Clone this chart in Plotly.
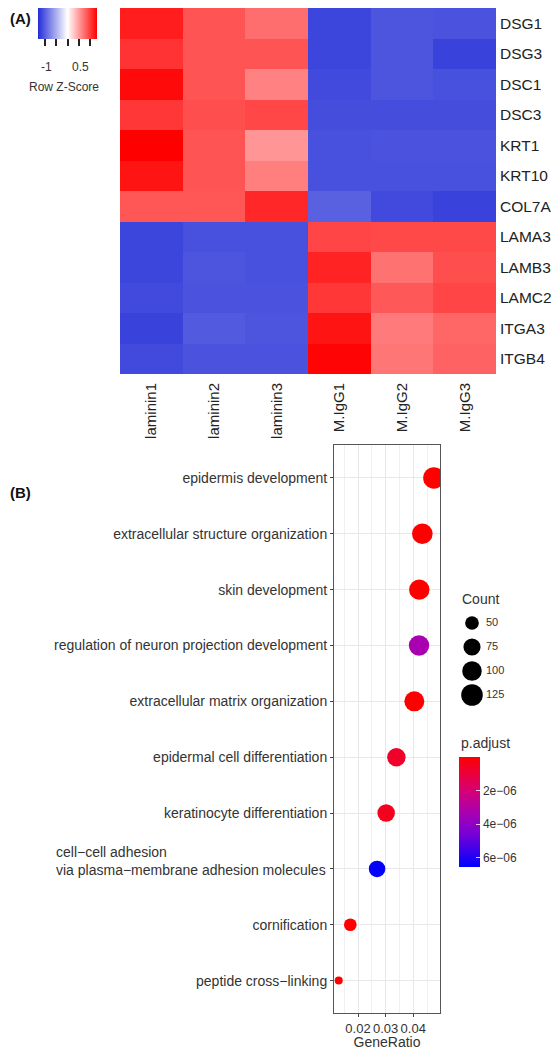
import math
import plotly.graph_objects as go

# ---------------- Panel A data ----------------
samples = ["laminin1", "laminin2", "laminin3", "M.IgG1", "M.IgG2", "M.IgG3"]
genes = ["DSG1", "DSG3", "DSC1", "DSC3", "KRT1", "KRT10", "COL7A1",
         "LAMA3", "LAMB3", "LAMC2", "ITGA3", "ITGB4"]
zscores = [
    [1.15, 0.87, 0.74, -1.15, -1.05, -1.07],
    [1.04, 0.87, 0.87, -1.15, -1.05, -1.17],
    [1.25, 0.87, 0.64, -1.12, -1.05, -1.08],
    [1.02, 0.90, 0.94, -1.10, -1.10, -1.10],
    [1.30, 0.87, 0.54, -1.08, -1.07, -1.07],
    [1.20, 0.87, 0.66, -1.08, -1.08, -1.08],
    [0.86, 0.86, 1.10, -0.98, -1.12, -1.17],
    [-1.15, -1.08, -1.08, 0.95, 0.93, 0.93],
    [-1.15, -1.05, -1.08, 1.12, 0.72, 0.90],
    [-1.12, -1.07, -1.07, 1.02, 0.85, 0.95],
    [-1.17, -1.02, -1.05, 1.20, 0.68, 0.78],
    [-1.12, -1.07, -1.07, 1.28, 0.70, 0.80],
]
key_ticks = [-1, -0.5, 0, 0.5, 1]
key_labels = {-1: "-1", 0.5: "0.5"}

# ---------------- Panel B data ----------------
terms = [
    "epidermis development",
    "extracellular structure organization",
    "skin development",
    "regulation of neuron projection development",
    "extracellular matrix organization",
    "epidermal cell differentiation",
    "keratinocyte differentiation",
    "cell\u2212cell adhesion<br>via plasma\u2212membrane adhesion molecules",
    "cornification",
    "peptide cross\u2212linking",
]
gene_ratio = [0.0475, 0.0433, 0.0422, 0.0421, 0.0404, 0.0339, 0.0302, 0.0269, 0.0172, 0.0130]
counts = [124, 113, 110, 110, 105, 88, 79, 70, 45, 34]
p_adjust = [1.0e-10, 3.0e-10, 2.0e-10, 3.3e-6, 5.0e-10, 7.0e-7, 5.0e-7, 6.5e-6, 1.0e-9, 2.0e-9]
count_breaks = [50, 75, 100, 125]
padj_ticks = [2e-6, 4e-6, 6e-6]
padj_ticktext = ["2e\u221206", "4e\u221206", "6e\u221206"]
ratio_ticks = [0.02, 0.03, 0.04]
ratio_minor = [0.015, 0.025, 0.035, 0.045]

# page body has an 8px default margin; figure sized to fit the 559x1050 window
OFF = 8
W, H = 559 - OFF, 1050 - OFF
FONT = "Liberation Sans, Arial, sans-serif"
TXT = "#333333"


def px_x(p):
    return (p - OFF) / W


def px_y(p):
    return 1 - (p - OFF) / H


# size scale (area-like, as ggplot scale_size)
cmin, cmax = min(counts), max(counts)


def dia(c):
    f = max(0.0, (c - cmin) / (cmax - cmin))
    return 8 + 13.5 * math.sqrt(f)


ZMIN, ZMAX = -1.3, 1.3
KEY_L, KEY_W = 38, 59

heat_scale = [[0.0, "rgb(35,45,215)"], [0.5, "rgb(255,255,255)"], [1.0, "rgb(255,0,0)"]]
padj_scale = [[0.0, "rgb(0,0,255)"], [0.3, "rgb(120,0,215)"], [0.5, "rgb(170,0,175)"],
              [0.7, "rgb(215,0,115)"], [1.0, "rgb(255,0,0)"]]
pmax = 6.55e-6

fig = go.Figure()

fig.add_trace(go.Heatmap(
    z=zscores, x=samples, y=genes, colorscale=heat_scale, zmin=ZMIN, zmax=ZMAX,
    xaxis="x", yaxis="y", hoverinfo="skip",
    colorbar=dict(
        orientation="h", x=px_x(KEY_L), xanchor="left", y=1.0, yanchor="top",
        lenmode="pixels", len=KEY_W, thickness=31, outlinewidth=0,
        tickmode="array", tickvals=key_ticks, ticktext=[""] * len(key_ticks),
        ticks="outside", ticklen=7, tickwidth=1.5, tickcolor="#222",
        tickfont=dict(size=12, color=TXT, family=FONT), xpad=0, ypad=0,
    ),
))

fig.add_trace(go.Scatter(
    x=gene_ratio, y=terms, mode="markers", xaxis="x2", yaxis="y2", cliponaxis=True,
    marker=dict(size=[dia(c) for c in counts], color=[-p for p in p_adjust], opacity=1,
                cmin=-pmax, cmax=0, colorscale=padj_scale, line=dict(width=0),
                colorbar=dict(
                    x=px_x(459), xanchor="left", y=px_y(757), yanchor="top",
                    lenmode="pixels", len=110, thickness=21, outlinewidth=0,
                    tickmode="array", tickvals=[-v for v in padj_ticks], ticktext=padj_ticktext,
                    ticks="inside", ticklen=4, tickcolor="rgba(255,255,255,0.8)",
                    tickfont=dict(size=12, color=TXT, family=FONT), xpad=0, ypad=0,
                )),
    showlegend=False, hoverinfo="skip",
))

# Count legend
fig.add_trace(go.Scatter(
    x=[17] * len(count_breaks), y=[str(c) for c in count_breaks], mode="markers",
    xaxis="x3", yaxis="y3",
    marker=dict(size=[dia(c) for c in count_breaks], color="black", opacity=1, line=dict(width=0)),
    showlegend=False, hoverinfo="skip",
))
fig.add_trace(go.Scatter(
    x=[31] * len(count_breaks), y=[str(c) for c in count_breaks], mode="text",
    text=[str(c) for c in count_breaks], textposition="middle right",
    textfont=dict(size=11, color=TXT, family=FONT),
    xaxis="x3", yaxis="y3", showlegend=False, hoverinfo="skip",
))

ticktext_terms = ["" if "<br>" in t else t for t in terms]

fig.update_layout(
    width=W, height=H, margin=dict(l=0, r=0, t=0, b=0),
    paper_bgcolor="white", plot_bgcolor="white", showlegend=False,
    font=dict(family=FONT, color=TXT),
    xaxis=dict(domain=[px_x(120), px_x(496)], anchor="y", tickangle=-90, ticks="",
               showgrid=False, zeroline=False, ticklabelstandoff=5,
               tickfont=dict(size=15, color="#222", family=FONT)),
    yaxis=dict(domain=[px_y(374), 1.0], anchor="x", side="right", autorange="reversed",
               ticks="", showgrid=False, zeroline=False, ticklabelstandoff=3,
               tickfont=dict(size=15.5, color="#222", family=FONT)),
    xaxis2=dict(domain=[px_x(334), px_x(440)], anchor="y2", range=[0.0113, 0.0497],
                tickmode="array", tickvals=ratio_ticks, ticktext=[f"{v:.2f}" for v in ratio_ticks],
                tickangle=0,
                ticks="outside", ticklen=3, tickcolor="#444", showline=True, linecolor="#555",
                linewidth=1, mirror=True, showgrid=True, gridcolor="#e8e8e8", zeroline=False,
                minor=dict(tickvals=ratio_minor, showgrid=True, gridcolor="#f0f0f0", ticks=""),
                tickfont=dict(size=13, color=TXT, family=FONT),
                title=dict(text="GeneRatio", font=dict(size=14, color=TXT, family=FONT), standoff=2)),
    yaxis2=dict(domain=[px_y(1013), px_y(445)], anchor="x2", type="category",
                categoryorder="array", categoryarray=terms, range=[9.58, -0.59],
                tickmode="array", tickvals=terms, ticktext=ticktext_terms,
                ticks="outside", ticklen=3, tickcolor="#444", showline=True, linecolor="#555",
                linewidth=1, mirror=True, showgrid=True, gridcolor="#e8e8e8", zeroline=False,
                tickfont=dict(size=14, color=TXT, family=FONT)),
    xaxis3=dict(domain=[px_x(455), px_x(535)], anchor="y3", range=[0, 80], visible=False),
    yaxis3=dict(domain=[px_y(707), px_y(611)], anchor="x3", type="category",
                range=[3.5, -0.5], visible=False),
)

ann = [
    dict(text="<b>(A)</b>", x=0, y=px_y(18), xanchor="left", yanchor="middle", font=dict(size=15, color="#111")),
    dict(text="<b>(B)</b>", x=0, y=px_y(493), xanchor="left", yanchor="middle", font=dict(size=15, color="#111")),
    dict(text="Row Z-Score", x=px_x(27), y=px_y(87), xanchor="left", yanchor="middle", font=dict(size=12, color=TXT)),
    dict(text="Count", x=px_x(460), y=px_y(599), xanchor="left", yanchor="middle", font=dict(size=14, color=TXT)),
    dict(text="p.adjust", x=px_x(459), y=px_y(743), xanchor="left", yanchor="middle", font=dict(size=14, color=TXT)),
]
# key tick labels placed on the key's value scale
for v, lab in key_labels.items():
    kx = KEY_L + (v - ZMIN) / (ZMAX - ZMIN) * KEY_W
    ann.append(dict(text=lab, x=px_x(kx + 2), y=px_y(67), xanchor="center", yanchor="middle",
                    font=dict(size=12, color=TXT)))
for a in ann:
    a.update(xref="paper", yref="paper", showarrow=False)
    a["font"]["family"] = FONT

for t in terms:
    if "<br>" in t:
        ann.append(dict(text=t, xref="paper", yref="y2", x=px_x(328), y=t, xanchor="right",
                        yanchor="middle", yshift=8, align="left", showarrow=False,
                        font=dict(size=14, color=TXT, family=FONT)))

fig.update_layout(annotations=ann)

fig.write_html("out.html")
